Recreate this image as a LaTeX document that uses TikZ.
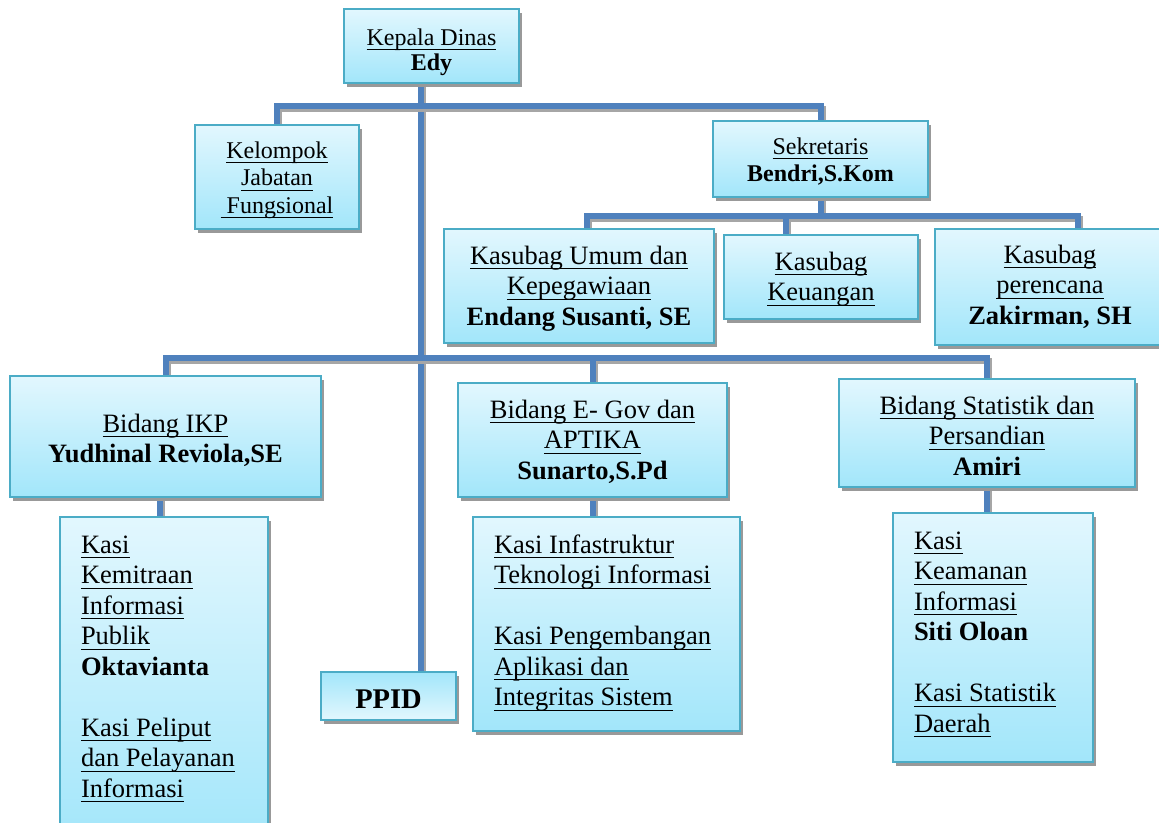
\documentclass[tikz,border=0pt]{standalone}
\usepackage{fontspec}
\setmainfont{Liberation Serif}
\usetikzlibrary{shadows,backgrounds}
\newcommand{\uline}[1]{\leavevmode\setbox0=\hbox{#1}\rlap{\rule[-5.4pt]{\wd0}{1.4pt}}\box0}
\definecolor{boxtop}{RGB}{226,247,254}
\definecolor{boxbot}{RGB}{162,230,250}
\definecolor{boxline}{RGB}{75,172,198}
\definecolor{conncol}{RGB}{79,129,189}
\newcommand{\cbox}[4]{\parbox[c][#2][t]{#1}{\centering\rule{0pt}{#3}#4}}
\newcommand{\lbox}[5]{\parbox[c][#2][t]{#1}{\raggedright\leftskip=#4\relax\rule{0pt}{#3}#5}}
\tikzset{
  box/.style={draw=boxline, line width=1.6pt, top color=boxtop, bottom color=boxbot,
    inner sep=0pt, outer sep=0pt, anchor=north west,
    drop shadow={shadow xshift=3pt, shadow yshift=-4pt, fill=black!40, opacity=1}},
  revbox/.style={box, top color=boxbot, bottom color=boxtop},
  fbig/.style={font=\fontsize{26.5}{30.5}\selectfont},
  fsmall/.style={font=\fontsize{24}{27.5}\selectfont},
  link/.style={draw=conncol, line width=6pt,
    preaction={draw=black!35, line width=6pt, transform canvas={xshift=2pt, yshift=-2.5pt}}}
}
\begin{document}
\begin{tikzpicture}[x=1pt,y=-1pt]
\useasboundingbox (0,0) rectangle (1159,822);
\clip (0,0) rectangle (1159,822);
% boxes
\node[box, font=\fontsize{24}{25.5}\selectfont] (kadis) at (344,9)
  {\cbox{175pt}{74pt}{36pt}{\uline{Kepala Dinas}\\ \textbf{Edy}}};
\node[box, fsmall] (kjf) at (195,125)
  {\cbox{164pt}{104pt}{33pt}{\uline{Kelompok}\\ \uline{Jabatan}\\ \uline{ Fungsional}}};
\node[box, fsmall] (sek) at (713,121)
  {\cbox{215pt}{76pt}{33pt}{\uline{Sekretaris}\\ \textbf{Bendri,S.Kom}}};
\node[box, fbig] (umum) at (444,229)
  {\cbox{270pt}{114pt}{35pt}{\uline{Kasubag Umum dan}\\ \uline{Kepegawiaan}\\ \textbf{Endang Susanti, SE}}};
\node[box, fbig] (keu) at (724,235)
  {\cbox{194pt}{84pt}{35pt}{\uline{Kasubag}\\ \uline{Keuangan}}};
\node[box, fbig] (ren) at (935,229)
  {\cbox{230pt}{116pt}{34pt}{\uline{Kasubag}\\ \uline{perencana}\\ \textbf{Zakirman, SH}}};
\node[box, fbig] (ikp) at (10,376)
  {\cbox{311pt}{121pt}{56pt}{\uline{Bidang IKP}\\ \textbf{Yudhinal Reviola,SE}}};
\node[box, fbig] (egov) at (458,383)
  {\cbox{269pt}{114pt}{35pt}{\uline{Bidang E- Gov dan}\\ \uline{APTIKA}\\ \textbf{Sunarto,S.Pd}}};
\node[box, fbig] (stat) at (839,379)
  {\cbox{296pt}{108pt}{35pt}{\uline{Bidang Statistik dan}\\ \uline{Persandian}\\ \textbf{Amiri}}};
\node[box, fbig] (kikp) at (60,517)
  {\lbox{208pt}{330pt}{36pt}{21pt}{\uline{Kasi}\\ \uline{Kemitraan}\\ \uline{Informasi}\\ \uline{Publik}\\ \textbf{Oktavianta}\\[30.5pt] \uline{Kasi Peliput}\\ \uline{dan Pelayanan}\\ \uline{Informasi}}};
\node[box, fbig] (kegov) at (473,517)
  {\lbox{267pt}{214pt}{36pt}{21pt}{\uline{Kasi Infastruktur}\\ \uline{Teknologi Informasi}\\[30.5pt] \uline{Kasi Pengembangan}\\ \uline{Aplikasi dan}\\ \uline{Integritas Sistem}}};
\node[box, fbig] (kstat) at (893,513)
  {\lbox{200pt}{249pt}{36pt}{21pt}{\uline{Kasi}\\ \uline{Keamanan}\\ \uline{Informasi}\\ \textbf{Siti Oloan}\\[30.5pt] \uline{Kasi Statistik}\\ \uline{Daerah}}};
\node[revbox, font=\fontsize{28.5}{30}\selectfont] (ppid) at (321,672)
  {\cbox{135pt}{48pt}{36pt}{\textbf{PPID}}};
% connector coordinates
\coordinate (tx) at (421,0);
\coordinate (bar1) at (0,106);
\coordinate (xu) at (587,216);
\coordinate (xk) at (786,216);
\coordinate (xr) at (1078,216);
\coordinate (bar3) at (0,358);
\coordinate (xi) at (160,0);
\begin{pgfonlayer}{background}
\draw[link] (kadis.south -| tx) -- (ppid.north -| tx);
\draw[link] (kjf.north) -- (kjf.north |- bar1) -- (bar1 -| sek.north) -- (sek.north);
\draw[link] (sek.south) -- (sek.south |- xu);
\draw[link] (umum.north -| xu) -- (xu) -- (xr) -- (ren.north -| xr);
\draw[link] (keu.north -| xk) -- (xk);
\draw[link] (ikp.north) -- (ikp.north |- bar3) -- (bar3 -| stat.north) -- (stat.north);
\draw[link] (egov.north) -- (egov.north |- bar3);
\draw[link] (ikp.south -| xi) -- (kikp.north -| xi);
\draw[link] (egov.south) -- (egov.south |- kegov.north);
\draw[link] (stat.south) -- (stat.south |- kstat.north);
\end{pgfonlayer}
\end{tikzpicture}
\end{document}
